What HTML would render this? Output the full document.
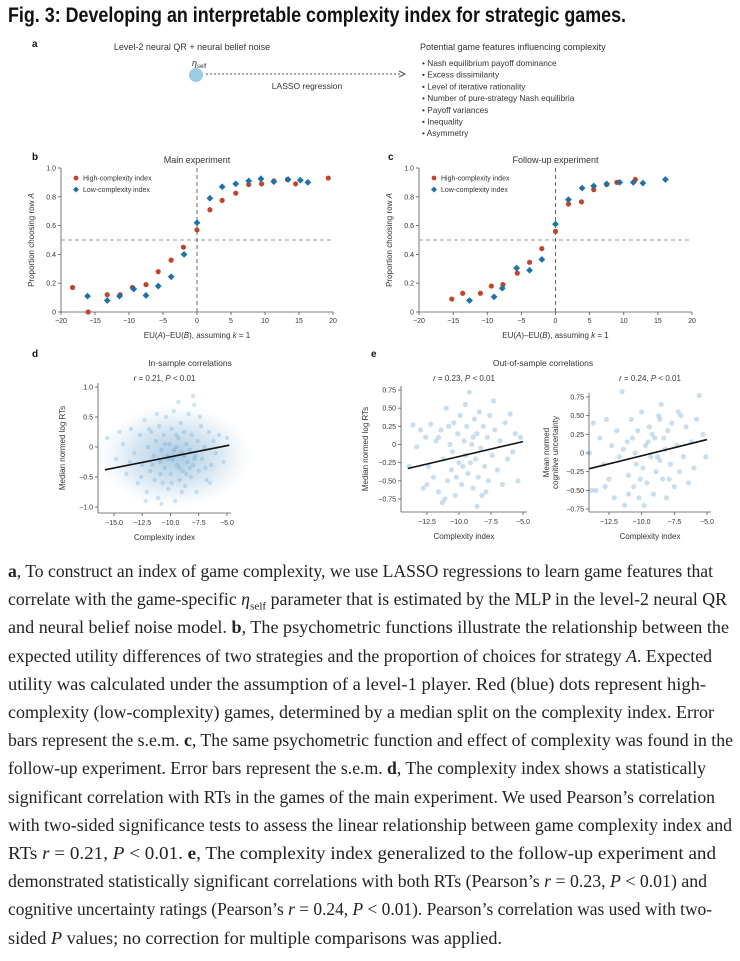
<!DOCTYPE html>
<html><head><meta charset="utf-8">
<style>
body{margin:0;background:#fff;width:740px;height:961px;overflow:hidden;position:relative;font-family:"Liberation Sans",sans-serif;}
#fig{position:absolute;left:0;top:0;}
.cap{position:absolute;left:8px;white-space:nowrap;font-family:"Liberation Serif",serif;font-size:17.5px;color:#222;transform-origin:0 0;}
.title{position:absolute;left:8px;top:4px;font-family:"Liberation Sans Narrow","Liberation Sans",sans-serif;font-weight:bold;font-size:21px;color:#111;white-space:nowrap;transform-origin:0 0;}
</style></head><body>
<div class="title" id="title">Fig. 3: Developing an interpretable complexity index for strategic games.</div>
<svg id="fig" width="740" height="560" font-family="Liberation Sans, sans-serif"></svg>
<div id="caption"></div>
<script>
// ---- Panel b data ----
const bHighX=[-18.3,-16,-13.2,-11.3,-9.5,-7.5,-5.7,-3.8,-2,0,1.9,3.7,5.7,7.6,9.5,11.3,13.3,14.5,19.3];
const bHighY=[0.17,0.0,0.12,0.12,0.17,0.19,0.28,0.36,0.45,0.57,0.71,0.775,0.825,0.885,0.89,0.91,0.92,0.89,0.93];
const bLowX=[-16.1,-13.2,-11.4,-9.3,-7.5,-5.7,-3.8,-1.9,0,1.9,3.7,5.7,7.6,9.4,11.3,13.4,15.2,16.3];
const bLowY=[0.11,0.08,0.11,0.16,0.115,0.18,0.245,0.40,0.62,0.79,0.87,0.89,0.91,0.925,0.905,0.92,0.915,0.90];
// ---- Panel c data ----
const cHighX=[-15.2,-13.6,-11,-9.4,-7.7,-5.6,-3.8,-2,0,1.9,3.8,5.6,7.5,9,11.7];
const cHighY=[0.09,0.13,0.13,0.18,0.19,0.27,0.345,0.44,0.56,0.75,0.765,0.85,0.885,0.90,0.92];
const cLowX=[-12.6,-9,-7.8,-5.7,-3.8,-2,0,1.9,3.9,5.6,7.5,9.4,11.4,12.8,16.1];
const cLowY=[0.08,0.105,0.165,0.305,0.29,0.365,0.61,0.78,0.86,0.875,0.89,0.90,0.90,0.895,0.92];
const psyXTicks=[-20,-15,-10,-5,0,5,10,15,20];
const psyYTicks=[0,0.2,0.4,0.6,0.8,1.0];
const psyYLabels=["0","0.2","0.4","0.6","0.8","1.0"];
// ---- Panel d data ----
const dPts=[[-15.6,0.15],[-14.8,-0.2],[-14.2,0.05],[-13.9,-0.45],[-13.5,0.3],[-13.2,-0.1],[-12.9,-0.6],[-12.7,0.2],[-12.5,-0.3],[-12.3,0.45],[-12.1,-0.75],[-12.0,0.0],[-11.8,-0.4],[-11.7,0.25],[-11.5,-0.15],[-11.4,-0.55],[-11.3,0.1],[-11.1,-0.85],[-11.0,0.35],[-10.9,-0.25],[-10.8,-0.05],[-10.7,-0.6],[-10.6,0.2],[-10.5,-0.35],[-10.4,0.5],[-10.3,-0.15],[-10.2,-0.7],[-10.1,0.05],[-10.0,-0.45],[-9.9,0.3],[-9.8,-0.2],[-9.7,0.6],[-9.6,-0.9],[-9.5,0.0],[-9.4,-0.3],[-9.3,0.15],[-9.2,-0.55],[-9.1,0.4],[-9.0,-0.1],[-8.9,-0.4],[-8.8,0.25],[-8.7,-0.65],[-8.6,0.05],[-8.5,-0.25],[-8.4,0.55],[-8.3,-0.05],[-8.2,-0.5],[-8.1,0.2],[-8.0,-0.3],[-7.9,0.7],[-7.8,-0.15],[-7.7,-0.75],[-7.6,0.1],[-7.5,-0.4],[-7.3,0.35],[-7.2,-0.2],[-7.0,0.0],[-6.8,-0.55],[-6.6,0.25],[-6.4,-0.3],[-6.2,0.1],[-6.0,-0.1],[-5.7,0.2],[-5.3,-0.25],[-5.0,0.15],[-11.6,-0.3],[-10.9,-0.45],[-10.2,-0.2],[-9.7,-0.05],[-9.2,-0.35],[-8.8,-0.15],[-8.3,-0.35],[-7.9,-0.2],[-10.5,0.05],[-9.5,0.2],[-8.6,-0.45],[-11.9,0.3],[-12.6,-0.5],[-13.6,-0.25],[-14.5,0.25],[-7.4,0.5],[-6.9,-0.35],[-9.9,-0.6],[-9.0,-0.75],[-10.8,-0.95],[-8.0,0.85],[-9.3,0.75],[-11.2,0.55],[-12.2,-0.9],[-6.5,-0.6]];
const dFit=[[-15.8,-0.38],[-4.8,0.03]];
const dXTicks=[-15,-12.5,-10,-7.5,-5];
const dXLabels=["-15.0","-12.5","-10.0","-7.5","-5.0"];
const dYTicks=[-1,-0.5,0,0.5,1];
const dYLabels=["-1.0","-0.5","0","0.5","1.0"];
// ---- Panel e data ----
const e1Pts=[[-13.6,0.27],[-13.3,-0.03],[-13.0,0.2],[-12.8,-0.6],[-12.6,0.1],[-12.4,-0.3],[-12.2,0.28],[-12.0,-0.45],[-11.8,0.05],[-11.6,-0.65],[-11.4,0.2],[-11.3,-0.8],[-11.2,-0.2],[-11.0,0.5],[-10.9,-0.5],[-10.7,0.0],[-10.6,-0.35],[-10.4,0.3],[-10.3,-0.7],[-10.1,0.15],[-10.0,-0.25],[-9.9,0.4],[-9.8,-0.55],[-9.6,0.05],[-9.5,-0.15],[-9.4,0.25],[-9.3,-0.4],[-9.2,0.72],[-9.0,0.0],[-8.9,-0.6],[-8.8,0.35],[-8.7,-0.2],[-8.6,0.15],[-8.5,-0.45],[-8.4,0.45],[-8.3,-0.05],[-8.2,-0.7],[-8.1,0.25],[-8.0,-0.3],[-7.8,0.1],[-7.7,-0.5],[-7.6,0.4],[-7.4,-0.15],[-7.2,0.2],[-7.0,-0.35],[-6.8,0.05],[-6.6,-0.55],[-6.4,0.3],[-6.2,-0.2],[-6.0,0.42],[-5.8,-0.1],[-5.6,0.15],[-5.4,-0.5],[-5.2,0.1],[-10.5,-0.1],[-9.7,-0.3],[-8.9,0.1],[-9.1,-0.25],[-10.2,-0.45],[-11.6,0.1],[-12.5,-0.55],[-13.9,-0.3],[-7.9,-0.65],[-8.6,-0.85],[-11.1,-0.75],[-9.5,0.55],[-7.3,0.6],[-10.8,0.25]];
const e1Fit=[[-14,-0.33],[-5,0.04]];
const e2Pts=[[-14.0,0.0],[-13.7,0.4],[-13.5,-0.5],[-13.2,0.2],[-12.9,-0.15],[-12.7,0.45],[-12.5,-0.35],[-12.3,0.1],[-12.1,-0.6],[-11.9,0.3],[-11.7,-0.05],[-11.5,0.82],[-11.3,-0.7],[-11.1,0.15],[-11.0,-0.3],[-10.8,0.45],[-10.6,-0.45],[-10.5,0.0],[-10.3,0.3],[-10.2,-0.6],[-10.0,0.55],[-9.9,-0.2],[-9.7,0.1],[-9.6,-0.4],[-9.4,0.35],[-9.3,-0.05],[-9.1,-0.55],[-9.0,0.2],[-8.9,-0.25],[-8.7,0.5],[-8.6,-0.1],[-8.5,0.65],[-8.4,-0.35],[-8.2,0.05],[-8.1,-0.6],[-8.0,0.3],[-7.8,-0.15],[-7.7,0.4],[-7.5,-0.45],[-7.3,0.1],[-7.1,-0.25],[-7.0,0.5],[-6.8,-0.05],[-6.6,0.35],[-6.4,-0.4],[-6.2,0.15],[-6.0,-0.2],[-5.8,0.45],[-5.6,0.77],[-5.3,0.25],[-5.1,-0.05],[-10.4,-0.15],[-9.5,0.15],[-8.8,-0.05],[-9.2,0.25],[-10.1,-0.35],[-11.4,0.05],[-12.8,-0.45],[-8.3,0.2],[-7.9,-0.35],[-9.8,-0.7],[-11.0,-0.55],[-8.6,0.45],[-10.7,0.2],[-13.8,-0.5],[-7.2,0.55]];
const e2Fit=[[-14,-0.21],[-5,0.18]];
const eXTicks=[-12.5,-10,-7.5,-5];
const eXLabels=["-12.5","-10.0","-7.5","-5.0"];
const eYTicks=[-0.75,-0.5,-0.25,0,0.25,0.5,0.75];
const eYLabels=["-0.75","-0.50","-0.25","0","0.25","0.50","0.75"];

const NS="http://www.w3.org/2000/svg";
const svg=document.getElementById('fig');
function el(tag,attrs,parent,text){const e=document.createElementNS(NS,tag);for(const k in attrs)e.setAttribute(k,attrs[k]);if(text!==undefined)e.textContent=text;(parent||svg).appendChild(e);return e;}
function txt(x,y,s,size,anchor,parent,name,extra){const t=el('text',Object.assign({x:x,y:y,'font-size':size,'text-anchor':anchor||'start',fill:'#333'},extra||{}),parent,s);


return t;}
function scale(d0,d1,p0,p1){return v=>p0+(v-d0)*(p1-p0)/(d1-d0);}

[['a',32,47],['b',32,160],['c',388,160],['d',32,357],['e',371,357]].forEach(([l,x,y])=>{txt(x,y,l,10,'start',svg,'panel-letter-'+l,{'font-weight':'bold',fill:'#111'});});

// ---- Panel a ----
const ga=el('g',{});


txt(192,50,'Level-2 neural QR + neural belief noise',9,'middle',ga,'model-label');
const eta=txt(192,66,'η',9,'start',ga,'eta-self-label',{'font-style':'italic'});
el('tspan',{'font-size':6,dy:2,'font-style':'normal'},eta,'self');
el('circle',{cx:196,cy:75,r:7,fill:'#9ccbe6'},ga);
el('line',{x1:206,y1:74,x2:400,y2:74,stroke:'#555','stroke-width':1,'stroke-dasharray':'2,2'},ga);
el('path',{d:'M399,71 L405,74 L399,77',fill:'none',stroke:'#555','stroke-width':1},ga);
txt(307,89,'LASSO regression',8.5,'middle',ga,'lasso-label');
txt(420,50,'Potential game features influencing complexity',9,'start',ga,'features-title');
['Nash equilibrium payoff dominance','Excess dissimilarity','Level of iterative rationality','Number of pure-strategy Nash equilibria','Payoff variances','Inequality','Asymmetry'].forEach((s,i)=>{txt(422,66+i*11.7,'• '+s,8.3,'start',ga,'feature-item');});

function psy(name,x0px,x1px,title,hx,hy,lx,ly){
  const g=el('g',{});
  
  
  const X=scale(-20,20,x0px,x1px),Y=scale(0,1,312,168);
  txt((x0px+x1px)/2,163,title,9,'middle',g,'chart-title');
  el('line',{x1:X(-20),y1:Y(0),x2:X(20),y2:Y(0),stroke:'#555','stroke-width':0.8},g);
  el('line',{x1:X(-20),y1:Y(0),x2:X(-20),y2:Y(1),stroke:'#555','stroke-width':0.8},g);
  psyXTicks.forEach(t=>{el('line',{x1:X(t),y1:Y(0),x2:X(t),y2:Y(0)+3,stroke:'#555','stroke-width':0.8},g);txt(X(t),Y(0)+11,t<0?'−'+(-t):String(t),7,'middle',g,'x-tick-label');});
  psyYTicks.forEach((t,i)=>{el('line',{x1:X(-20)-3,y1:Y(t),x2:X(-20),y2:Y(t),stroke:'#555','stroke-width':0.8},g);txt(X(-20)-5,Y(t)+2.5,psyYLabels[i],7,'end',g,'y-tick-label');});
  el('line',{x1:X(-20),y1:Y(0.5),x2:X(20),y2:Y(0.5),stroke:'#999','stroke-width':1,'stroke-dasharray':'4,3'},g);
  el('line',{x1:X(0),y1:Y(0),x2:X(0),y2:Y(1),stroke:'#666','stroke-width':1,'stroke-dasharray':'4,3'},g);
  const xl=txt((x0px+x1px)/2,Y(0)+26,'EU(',8,'middle',g,'x-axis-title');
  el('tspan',{'font-style':'italic'},xl,'A');el('tspan',{},xl,')–EU(');el('tspan',{'font-style':'italic'},xl,'B');el('tspan',{},xl,'), assuming ');el('tspan',{'font-style':'italic'},xl,'k');el('tspan',{},xl,' = 1');
  const yx=x0px-27,yy=(Y(0)+Y(1))/2;
  const yl=txt(yx,yy,'Proportion choosing row ',8,'middle',g,'y-axis-title',{transform:`rotate(-90 ${yx} ${yy})`});
  el('tspan',{'font-style':'italic'},yl,'A');
  hx.forEach((v,i)=>{const c=el('circle',{cx:X(v),cy:Y(hy[i]),r:2.6,fill:'#c1442d'},g);
    
    });
  lx.forEach((v,i)=>{const cx=X(v),cy=Y(ly[i]);const p=el('path',{d:`M${cx},${cy-3.4}L${cx+3.4},${cy}L${cx},${cy+3.4}L${cx-3.4},${cy}Z`,fill:'#1f72a8'},g);
    
    });
  const lgX=x0px+15;
  el('circle',{cx:lgX,cy:178,r:2.4,fill:'#c1442d'},g);
  txt(lgX+7,180.5,'High-complexity index',7,'start',g,'legend-high');
  el('path',{d:`M${lgX},${186.5}L${lgX+3},${189.5}L${lgX},${192.5}L${lgX-3},${189.5}Z`,fill:'#1f72a8'},g);
  txt(lgX+7,192,'Low-complexity index',7,'start',g,'legend-low');
}
psy('panel-b-main-experiment',61,333,'Main experiment',bHighX,bHighY,bLowX,bLowY);
psy('panel-c-follow-up',419,692,'Follow-up experiment',cHighX,cHighY,cLowX,cLowY);

function scat(name,pts,fit,xd,xp,yd,yp,axL,axB,xT,xL,yT,yL,ylab,titleY,titleTxt,r,op,blob){
  const g=el('g',{});
  
  
  const X=scale(xd[0],xd[1],xp[0],xp[1]),Y=scale(yd[0],yd[1],yp[0],yp[1]);
  if(blob){el('ellipse',{cx:X(blob[0]),cy:Y(blob[1]),rx:blob[2],ry:blob[3],fill:'url(#blobg)'},g);}
  pts.forEach(p=>{const c=el('circle',{cx:X(p[0]),cy:Y(p[1]),r:r,fill:'#4f93c4','fill-opacity':op},g);
    
    });
  const ln=el('line',{x1:X(fit[0][0]),y1:Y(fit[0][1]),x2:X(fit[1][0]),y2:Y(fit[1][1]),stroke:'#111','stroke-width':1.6},g);
  
  
  const xr=X(xT[xT.length-1])+4,yt=Y(yT[yT.length-1])-4;
  el('line',{x1:axL,y1:axB,x2:xr,y2:axB,stroke:'#555','stroke-width':0.8},g);
  el('line',{x1:axL,y1:axB,x2:axL,y2:yt,stroke:'#555','stroke-width':0.8},g);
  xT.forEach((t,i)=>{el('line',{x1:X(t),y1:axB,x2:X(t),y2:axB+3,stroke:'#555','stroke-width':0.8},g);txt(X(t),axB+12,xL[i].replace('-','−'),7,'middle',g,'x-tick-label');});
  yT.forEach((t,i)=>{el('line',{x1:axL-3,y1:Y(t),x2:axL,y2:Y(t),stroke:'#555','stroke-width':0.8},g);txt(axL-5,Y(t)+2.5,yL[i].replace('-','−'),7,'end',g,'y-tick-label');});
  txt((axL+xr)/2,axB+27,'Complexity index',8,'middle',g,'x-axis-title');
  ylab.forEach((s,i)=>{const yx=ylab.length>1?axL-40+i*9:axL-33,yy=(axB+yt)/2;txt(yx,yy,s,8,'middle',g,'y-axis-title',{transform:`rotate(-90 ${yx} ${yy})`});});
  const tt=txt((axL+xr)/2,titleY,'',8,'middle',g,'correlation-stat');
  el('tspan',{'font-style':'italic'},tt,'r');el('tspan',{},tt,titleTxt[0]);el('tspan',{'font-style':'italic'},tt,'P');el('tspan',{},tt,titleTxt[1]);
}
const defs=el('defs',{});
const rg=el('radialGradient',{id:'blobg'},defs);
el('stop',{offset:'0','stop-color':'#4f93c4','stop-opacity':0.5},rg);
el('stop',{offset:'0.55','stop-color':'#7fb1d6','stop-opacity':0.3},rg);
el('stop',{offset:'1','stop-color':'#a8cbe5','stop-opacity':0},rg);
txt(190,366,'In-sample correlations',8.5,'middle',svg,'panel-d-title');
scat('panel-d-in-sample',dPts,dFit,[-15,-5],[114,227],[-1,1],[507,387],98,513,dXTicks,dXLabels,dYTicks,dYLabels,['Median normed log RTs'],381,[' = 0.21, ',' < 0.01'],2.2,0.25,[-9.6,-0.15,78,52]);
txt(543,366,'Out-of-sample correlations',8.5,'middle',svg,'panel-e-title');
scat('panel-e-rt',e1Pts,e1Fit,[-12.5,-5],[427,523],[-0.75,0.75],[499,390],401,512,eXTicks,eXLabels,eYTicks,eYLabels,['Median normed log RTs'],381,[' = 0.23, ',' < 0.01'],2.6,0.3,null);
scat('panel-e-uncertainty',e2Pts,e2Fit,[-12.5,-5],[609,707],[-0.75,0.75],[509,397],589,512,eXTicks,eXLabels,eYTicks,eYLabels,['Mean normed','cognitive uncertainty'],381,[' = 0.24, ',' < 0.01'],2.6,0.3,null);

const ti=document.getElementById('title');ti.style.transform='scaleX('+(618/ti.getBoundingClientRect().width)+')';

const lines=[
['<b>a</b>, To construct an index of game complexity, we use LASSO regressions to learn game features that',713],
['correlate with the game-specific <i>η</i><sub style="font-size:11px">self</sub> parameter that is estimated by the MLP in the level-2 neural QR',727],
['and neural belief noise model. <b>b</b>, The psychometric functions illustrate the relationship between the',729],
['expected utility differences of two strategies and the proportion of choices for strategy <i>A</i>. Expected',712],
['utility was calculated under the assumption of a level-1 player. Red (blue) dots represent high-',706],
['complexity (low-complexity) games, determined by a median split on the complexity index. Error',714],
['bars represent the s.e.m. <b>c</b>, The same psychometric function and effect of complexity was found in the',733],
['follow-up experiment. Error bars represent the s.e.m. <b>d</b>, The complexity index shows a statistically',706],
['significant correlation with RTs in the games of the main experiment. We used Pearson’s correlation',715],
['with two-sided significance tests to assess the linear relationship between game complexity index and',732],
['RTs <i>r</i> = 0.21, <i>P</i> &lt; 0.01. <b>e</b>, The complexity index generalized to the follow-up experiment and',716],
['demonstrated statistically significant correlations with both RTs (Pearson’s <i>r</i> = 0.23, <i>P</i> &lt; 0.01) and',707],
['cognitive uncertainty ratings (Pearson’s <i>r</i> = 0.24, <i>P</i> &lt; 0.01). Pearson’s correlation was used with two-',712],
['sided <i>P</i> values; no correction for multiple comparisons was applied.',502]];
const cap=document.getElementById('caption');
lines.forEach((l,i)=>{const d=document.createElement('div');d.className='cap';d.style.top=(561+i*28.2)+'px';d.innerHTML=l[0];


cap.appendChild(d);const w=d.getBoundingClientRect().width;d.style.transform='scaleX('+((l[1]-8)/w)+')';});
</script>
</body></html>
